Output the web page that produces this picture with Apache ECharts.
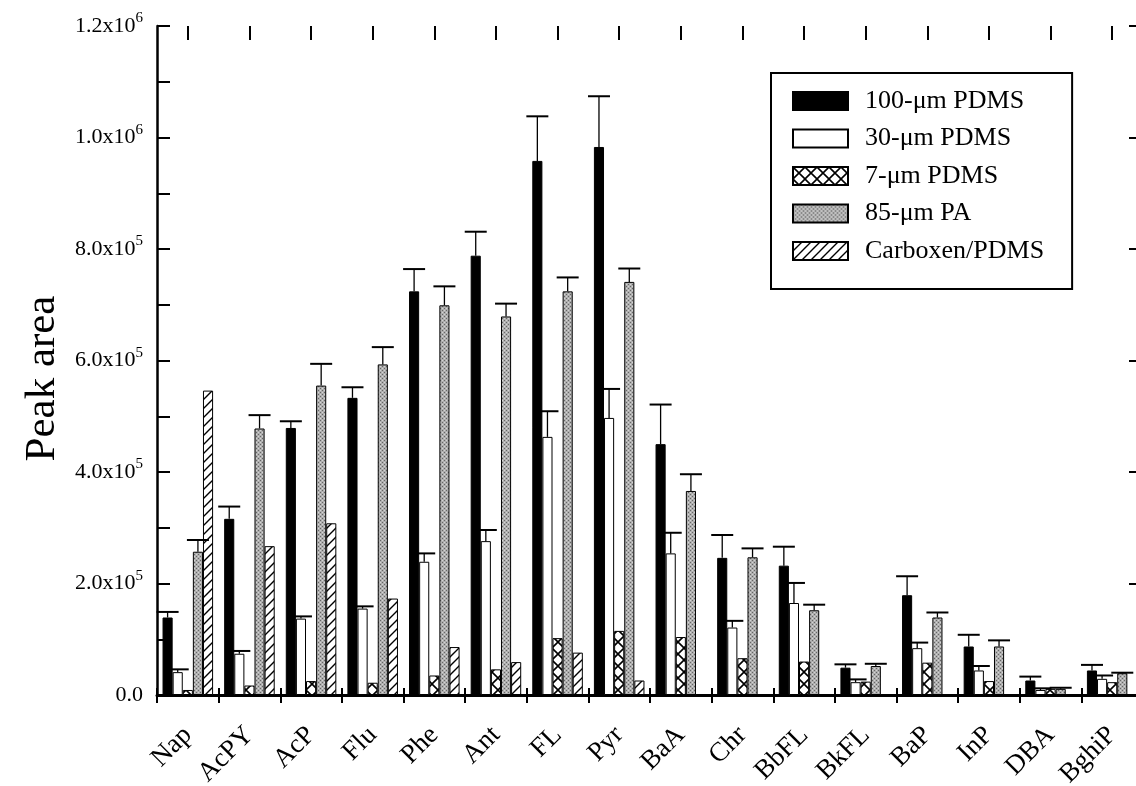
<!DOCTYPE html>
<html>
<head>
<meta charset="utf-8">
<script src="https://cdn.jsdelivr.net/npm/echarts@6/dist/echarts.min.js"></script>
<style>
html,body{margin:0;padding:0;background:#fff;}
#chart{width:1136px;height:786px;}
</style>
</head>
<body>
<div id="chart"></div>
<script>
// ---- data ----
const categories = ['Nap','AcPY','AcP','Flu','Phe','Ant','FL','Pyr','BaA','Chr','BbFL','BkFL','BaP','InP','DBA','BghiP'];
const seriesNames = ['100-μm PDMS','30-μm PDMS','7-μm PDMS','85-μm PA','Carboxen/PDMS'];

const pdms100    = [139000,316000,479000,533000,724000,788000,958000,983000,450000,246000,232000,49000,179000,87000,26000,44000];
const pdms100Err = [10000,22000,12000,19000,40000,43000,80000,91000,71000,41000,34000,6000,34000,21000,7000,10000];

const pdms30     = [41000,74000,137000,155000,239000,276000,463000,497000,254000,121000,165000,23000,84000,44000,9000,29000];
const pdms30Err  = [5000,5000,4000,4000,15000,20000,46000,52000,37000,12000,36000,5000,10000,8000,3000,6000];

const pdms7      = [9000,17000,25000,22000,35000,46000,102000,115000,104000,66000,60000,24000,58000,25000,11000,23000];

const pa85       = [257000,478000,555000,593000,699000,679000,724000,741000,366000,247000,152000,52000,139000,87000,11000,39000];
const pa85Err    = [21000,24000,39000,31000,34000,23000,25000,24000,30000,16000,10000,4000,9000,11000,2000,1000];

const carboxen   = [546000,267000,308000,173000,86000,59000,76000,26000,null,null,null,null,null,null,null,null];

const yTicks = [0, 200000, 400000, 600000, 800000, 1000000, 1200000];

// ---- fill patterns ----
function crossPattern(){
  const s = 12, c = document.createElement('canvas'); c.width = s; c.height = s;
  const g = c.getContext('2d');
  g.fillStyle = '#fff'; g.fillRect(0,0,s,s);
  g.strokeStyle = '#000'; g.lineWidth = 1.6;
  g.beginPath(); g.moveTo(0,0); g.lineTo(s,s); g.moveTo(s,0); g.lineTo(0,s); g.stroke();
  return c;
}
function hatchPattern(){
  const s = 9, c = document.createElement('canvas'); c.width = s; c.height = s;
  const g = c.getContext('2d');
  g.fillStyle = '#fff'; g.fillRect(0,0,s,s);
  g.strokeStyle = '#000'; g.lineWidth = 1.4;
  g.beginPath();
  g.moveTo(-1,s+1); g.lineTo(s+1,-1);
  g.moveTo(-2,2); g.lineTo(2,-2);
  g.moveTo(s-2,s+2); g.lineTo(s+2,s-2);
  g.stroke();
  return c;
}
function grayPattern(){
  const s = 4, c = document.createElement('canvas'); c.width = s; c.height = s;
  const g = c.getContext('2d');
  g.fillStyle = '#aeaeae'; g.fillRect(0,0,s,s);
  g.fillStyle = '#666';
  g.fillRect(0,0,1,1); g.fillRect(2,2,1,1);
  g.fillStyle = '#d4d4d4';
  g.fillRect(2,0,1,1); g.fillRect(0,2,1,1);
  return c;
}

const fills = [
  '#000000',
  '#ffffff',
  {image: crossPattern(), repeat: 'repeat'},
  {image: grayPattern(), repeat: 'repeat'},
  {image: hatchPattern(), repeat: 'repeat'}
];
const values = [pdms100, pdms30, pdms7, pa85, carboxen];
const errs = [pdms100Err, pdms30Err, null, pa85Err, null];

const FONT = "'Liberation Serif','Times New Roman',serif";
const CAT_GAP = 0.18;

const series = [];
values.forEach((v, i) => {
  series.push({
    name: seriesNames[i],
    type: 'bar',
    data: v,
    barGap: '0%',
    barCategoryGap: (CAT_GAP*100) + '%',
    itemStyle: {color: fills[i], borderColor: '#000', borderWidth: 1},
    emphasis: {disabled: true},
    animation: false,
    z: 2
  });
});

errs.forEach((e, i) => {
  if (!e) return;
  const data = categories.map((c, k) => [k, values[i][k], e[k]]);
  series.push({
    type: 'custom',
    data: data,
    z: 5,
    silent: true,
    animation: false,
    renderItem: function(params, api){
      const k = api.value(0), val = api.value(1), err = api.value(2);
      const base = api.coord([k, val]);
      const top = api.coord([k, val + err]);
      const band = api.size([1, 0])[0];
      const bw = band * (1 - CAT_GAP) / 5;
      const x = base[0] + (i - 2) * bw;
      const half = 11;
      return {
        type: 'group',
        children: [
          {type: 'line', shape: {x1: x, y1: base[1], x2: x, y2: top[1]}, style: {stroke: '#000', lineWidth: 1.3}},
          {type: 'line', shape: {x1: x - half, y1: top[1], x2: x + half, y2: top[1]}, style: {stroke: '#000', lineWidth: 2}}
        ]
      };
    }
  });
});

function yLabel(v){
  if (v === 0) return '{m|0.0}';
  const exp = Math.floor(Math.log10(v) + 1e-9);
  const mant = v / Math.pow(10, exp);
  return '{m|' + mant.toFixed(1) + 'x10}{s|' + exp + '}';
}

const yAxisBase = {
  type: 'value', min: yTicks[0], max: yTicks[yTicks.length - 1], interval: yTicks[1] - yTicks[0],
  splitLine: {show: false}
};

const option = {
  backgroundColor: '#fff',
  animation: false,
  grid: {left: 157, top: 26, width: 986, bottom: 91, containLabel: false, outerBoundsMode: 'none'},
  legend: {
    data: seriesNames,
    orient: 'vertical',
    left: 771, top: 73,
    itemWidth: 55, itemHeight: 18, itemGap: 11.5,
    icon: 'rect',
    padding: [15, 28, 25, 21],
    borderColor: '#000', borderWidth: 2,
    selectedMode: false,
    textStyle: {fontFamily: FONT, fontSize: 26, color: '#000', padding: [0,0,0,12]}
  },
  xAxis: [
    {
      type: 'category', data: categories, position: 'bottom',
      axisLine: {show: true, lineStyle: {color: '#000', width: 3}},
      axisTick: {show: true, inside: true, length: 7, alignWithLabel: false, interval: 0, lineStyle: {color: '#000', width: 2}},
      axisLabel: {interval: 0, rotate: 45, margin: 36, fontFamily: FONT, fontSize: 27, color: '#000'},
      splitLine: {show: false}
    },
    {
      type: 'category', data: categories, position: 'top', offset: 0,
      axisLine: {show: true, lineStyle: {color: '#000', width: 2}},
      axisTick: {show: true, inside: true, length: 8, alignWithLabel: false, interval: 0, lineStyle: {color: '#000', width: 2}},
      axisLabel: {show: false}, splitLine: {show: false}
    },
    {
      type: 'category', data: categories, position: 'top', offset: 0,
      axisLine: {show: false},
      axisTick: {show: true, inside: true, length: 14, alignWithLabel: true, interval: 0, lineStyle: {color: '#000', width: 2}},
      axisLabel: {show: false}, splitLine: {show: false}
    }
  ],
  yAxis: [
    Object.assign({}, yAxisBase, {
      position: 'left',
      name: 'Peak area', nameLocation: 'middle', nameGap: 92,
      nameTextStyle: {fontFamily: FONT, fontSize: 43, color: '#000', padding: [0, 36, 0, 0]},
      axisLine: {show: true, lineStyle: {color: '#000', width: 2.5}},
      axisTick: {show: true, inside: true, length: 13, lineStyle: {color: '#000', width: 2}},
      minorTick: {show: true, splitNumber: 2, length: 13, lineStyle: {color: '#000', width: 2}},
      axisLabel: {
        margin: 14, color: '#000', formatter: yLabel,
        rich: {
          m: {fontFamily: FONT, fontSize: 22, lineHeight: 30, color: '#000'},
          s: {fontFamily: FONT, fontSize: 15, lineHeight: 15, verticalAlign: 'top', color: '#000'}
        }
      }
    }),
    Object.assign({}, yAxisBase, {
      position: 'right',
      axisLine: {show: true, lineStyle: {color: '#000', width: 2.5}},
      axisTick: {show: true, inside: true, length: 14, lineStyle: {color: '#000', width: 2}},
      minorTick: {show: true, splitNumber: 2, length: 7, lineStyle: {color: '#000', width: 2}},
      axisLabel: {show: false}
    })
  ],
  series: series
};

const chart = echarts.init(document.getElementById('chart'), null, {renderer: 'canvas'});
chart.setOption(option);
</script>
</body>
</html>
